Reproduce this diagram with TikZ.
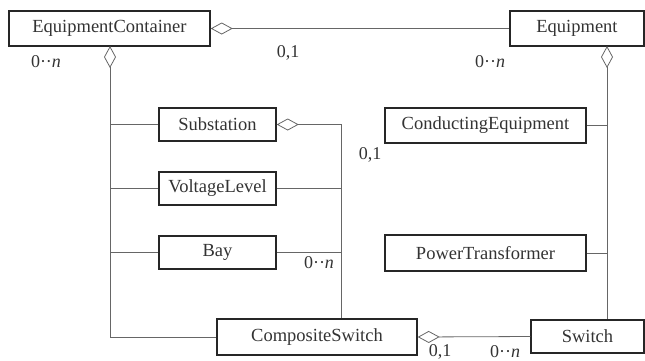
\documentclass[tikz,border=0pt]{standalone}
\usepackage{fontspec}
\setmainfont{Liberation Serif}
\usetikzlibrary{arrows.meta}
\begin{document}
\begin{tikzpicture}[x=1pt,y=-1pt,
  cls/.style={draw=black!85,line width=1.4pt,rectangle,inner sep=0pt,font=\fontsize{18.5}{20}\selectfont,text=black!80},
  conn/.style={draw=black!60,line width=0.8pt},
  agg/.style={conn,{Diamond[open,length=22pt,width=12pt,line width=0.8pt]}-},
  lbl/.style={font=\fontsize{18}{20}\selectfont,text=black!80,inner sep=0pt}]
\useasboundingbox (0,0) rectangle (645,360);
% classes
\node[cls,minimum width=201pt,minimum height=35pt] (ec) at (109.5,28.5) {EquipmentContainer};
\node[cls,minimum width=134pt,minimum height=35pt] (eq) at (577,28.5) {Equipment};
\node[cls,minimum width=117pt,minimum height=33pt] (sub) at (217.5,124.5) {Substation};
\node[cls,minimum width=117pt,minimum height=33pt] (vl) at (217.5,188.5) {VoltageLevel};
\node[cls,minimum width=117pt,minimum height=33pt] (bay) at (217.5,252.5) {Bay};
\node[cls,minimum width=201pt,minimum height=35pt] (ce) at (485.5,125.5) {ConductingEquipment};
\node[cls,minimum width=201pt,minimum height=36pt] (pt) at (485.5,253) {PowerTransformer};
\node[cls,minimum width=200pt,minimum height=36pt] (cs) at (317,337) {CompositeSwitch};
\node[cls,minimum width=113pt,minimum height=33pt] (sw) at (587.5,336.5) {Switch};
% junction coordinates
\coordinate (ecb) at (110,46);
\coordinate (j1) at (110,124.5);
\coordinate (j2) at (110,188.5);
\coordinate (j3) at (110,252.5);
\coordinate (k1) at (341,124.5);
\coordinate (k2) at (341,188.5);
\coordinate (k3) at (341,252.5);
\coordinate (eqb) at (607,46);
\coordinate (m1) at (607,125.5);
\coordinate (m2) at (607,253);
% connectors
\draw[agg] (ec.east) -- (eq.west);
\draw[agg] (ecb) |- (cs.west);
\draw[conn] (j1) -- (sub.west);
\draw[conn] (j2) -- (vl.west);
\draw[conn] (j3) -- (bay.west);
\draw[agg] (sub.east) -- (k1) -- (k1 |- cs.north);
\draw[conn] (vl.east) -- (k2);
\draw[conn] (bay.east) -- (k3);
\draw[agg] (eqb) -- (eqb |- sw.north);
\draw[conn] (ce.east) -- (m1);
\draw[conn] (pt.east) -- (m2);
\draw[agg] (cs.east) -- (sw.west);
% multiplicities
\node[lbl] (l1) at (288,53) {0,1};
\node[lbl] (l2) at (490,62) {0··\textit{n}};
\node[lbl] (l3) at (46,62) {0··\textit{n}};
\node[lbl] (l4) at (370,155) {0,1};
\node[lbl] (l5) at (319,263) {0··\textit{n}};
\node[lbl] (l6) at (440,351.5) {0,1};
\node[lbl] (l7) at (505,351.5) {0··\textit{n}};
\end{tikzpicture}
\end{document}
